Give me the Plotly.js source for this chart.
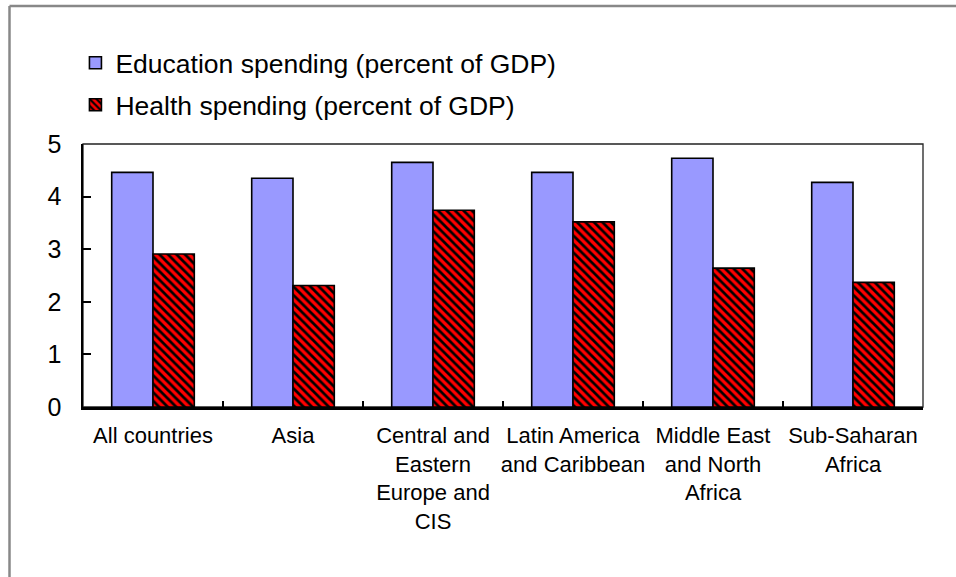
<!DOCTYPE html>
<html>
<head>
<meta charset="utf-8">
<script src="https://cdn.plot.ly/plotly-3.0.1.min.js"></script>
<style>
  html, body { margin: 0; padding: 0; background: #ffffff; }
  #chart { width: 956px; height: 577px; }
</style>
</head>
<body>
<div id="chart"></div>
<script>
// ---- data ----
const categories = ['All countries', 'Asia', 'Central and Eastern Europe and CIS',
                    'Latin America and Caribbean', 'Middle East and North Africa', 'Sub-Saharan Africa'];
const tickLabels = ['All countries', 'Asia', 'Central and<br>Eastern<br>Europe and<br>CIS',
                    'Latin America<br>and Caribbean', 'Middle East<br>and North<br>Africa', 'Sub-Saharan<br>Africa'];
const educationSpending = [4.46, 4.35, 4.65, 4.46, 4.73, 4.27];
const healthSpending    = [2.91, 2.31, 3.74, 3.52, 2.64, 2.37];
const seriesNames = ['Education spending (percent of GDP)', 'Health spending (percent of GDP)'];
const yTicks = [0, 1, 2, 3, 4, 5];

const FONT = 'Liberation Sans, Arial, Helvetica, sans-serif';

const traces = [
  {
    type: 'bar',
    name: seriesNames[0],
    x: categories,
    y: educationSpending,
    legend: 'legend',
    marker: { color: '#9999FF', line: { color: '#000000', width: 1.6 } },
    hoverinfo: 'skip'
  },
  {
    type: 'bar',
    name: seriesNames[1],
    x: categories,
    y: healthSpending,
    legend: 'legend2',
    marker: {
      color: '#FF0000',
      line: { color: '#000000', width: 1.6 },
      pattern: { shape: '\\', fgcolor: '#000000', bgcolor: '#FF0000', size: 6, solidity: 0.45, fillmode: 'replace' }
    },
    hoverinfo: 'skip'
  }
];

const layout = {
  width: 956,
  height: 577,
  margin: { l: 83, r: 33, t: 144, b: 170, pad: 0 },
  paper_bgcolor: '#ffffff',
  plot_bgcolor: '#ffffff',
  font: { family: FONT, color: '#000000', size: 22 },
  barmode: 'group',
  bargap: 0.41,
  bargroupgap: 0,
  showlegend: true,
  legend: {
    x: -0.009, y: 1.308, xanchor: 'left', yanchor: 'middle',
    font: { family: FONT, size: 26.5, color: '#000000' },
    bgcolor: 'rgba(0,0,0,0)', borderwidth: 0
  },
  legend2: {
    x: -0.009, y: 1.148, xanchor: 'left', yanchor: 'middle',
    font: { family: FONT, size: 26.5, color: '#000000' },
    bgcolor: 'rgba(0,0,0,0)', borderwidth: 0
  },
  xaxis: {
    type: 'category',
    tickmode: 'array',
    tickvals: categories,
    ticktext: tickLabels,
    tickson: 'boundaries',
    ticks: 'inside',
    ticklen: 6,
    tickwidth: 2,
    tickcolor: '#000000',
    showline: true,
    linecolor: '#000000',
    linewidth: 2.5,
    showgrid: false,
    zeroline: false,
    tickangle: 0,
    ticklabelstandoff: 7,
    tickfont: { family: FONT, size: 22, color: '#000000' },
    range: [-0.5, 5.5],
    fixedrange: true
  },
  yaxis: {
    range: [0, 5],
    tickmode: 'array',
    tickvals: yTicks,
    ticks: 'inside',
    ticklen: 8,
    tickwidth: 2,
    tickcolor: '#000000',
    showline: true,
    linecolor: '#000000',
    linewidth: 2.5,
    showgrid: false,
    zeroline: false,
    ticklabelstandoff: 14,
    tickfont: { family: FONT, size: 25, color: '#000000' },
    fixedrange: true
  },
  shapes: [
    // thin frame around plot area (top & right sides visible)
    { type: 'rect', xref: 'paper', yref: 'paper', x0: 0, x1: 1, y0: 0, y1: 1,
      line: { color: '#222222', width: 1.3 }, layer: 'below' },
    // outer chart border (left and top; continues beyond the picture)
    { type: 'line', xref: 'paper', yref: 'paper', x0: -0.0875, x1: -0.0875, y0: 1.5247, y1: -0.8,
      line: { color: '#888888', width: 2.5 } },
    { type: 'line', xref: 'paper', yref: 'paper', x0: -0.0875, x1: 1.1, y0: 1.5247, y1: 1.5247,
      line: { color: '#888888', width: 2.5 } }
  ]
};

Plotly.newPlot('chart', traces, layout, { displayModeBar: false, staticPlot: true });
</script>
</body>
</html>
